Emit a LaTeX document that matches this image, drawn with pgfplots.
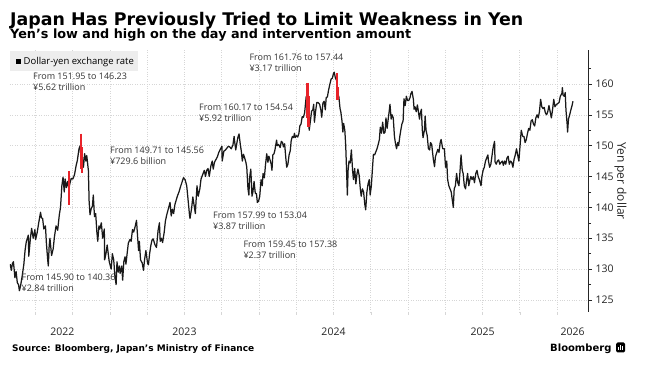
\documentclass[border=0pt]{standalone}
\usepackage{fontspec}
\setmainfont{Open Sans}
\newfontfamily\djv{DejaVu Sans}
\usepackage{pgfplots}
\usepackage{pgfplotstable}
\pgfplotsset{compat=1.18}
\definecolor{gridc}{HTML}{D6D6D6}
\definecolor{intred}{HTML}{E8232A}
\definecolor{anncol}{HTML}{333333}
\pgfplotstableread{
t v
2022.330 130.8
2022.338 129.8
2022.345 130.9
2022.352 131.2
2022.362 128.6
2022.370 129.6
2022.378 127.8
2022.386 127.5
2022.392 126.5
2022.400 127.3
2022.411 128.9
2022.422 130.8
2022.430 133.0
2022.438 134.4
2022.452 135.5
2022.455 132.1
2022.466 135.0
2022.474 136.6
2022.485 135.0
2022.496 136.4
2022.501 134.8
2022.512 136.0
2022.521 137.4
2022.534 139.2
2022.540 138.3
2022.548 138.2
2022.556 136.5
2022.567 137.0
2022.573 134.3
2022.581 131.8
2022.586 130.5
2022.592 133.8
2022.597 135.0
2022.608 132.2
2022.619 133.3
2022.627 135.2
2022.638 137.0
2022.649 136.3
2022.660 138.8
2022.668 140.0
2022.677 143.5
2022.685 144.9
2022.693 142.5
2022.699 144.6
2022.707 143.2
2022.716 144.2
2022.724 143.0
2022.732 144.0
2022.740 144.7
2022.751 144.6
2022.762 145.3
2022.773 146.8
2022.781 147.6
2022.792 149.5
2022.800 150.0
2022.805 148.0
2022.813 148.5
2022.822 146.5
2022.830 148.7
2022.838 147.5
2022.844 148.4
2022.855 146.0
2022.860 141.0
2022.866 138.8
2022.874 139.8
2022.882 140.2
2022.888 142.0
2022.896 138.5
2022.904 139.0
2022.912 136.0
2022.918 134.5
2022.926 137.0
2022.932 136.5
2022.942 137.5
2022.951 135.0
2022.962 136.5
2022.964 131.5
2022.973 132.5
2022.981 133.9
2022.995 131.2
2023.008 130.0
2023.016 132.5
2023.025 131.5
2023.033 128.9
2023.041 127.5
2023.047 131.2
2023.055 129.5
2023.063 130.5
2023.068 129.3
2023.079 130.5
2023.085 128.2
2023.093 131.2
2023.101 132.0
2023.107 130.8
2023.115 132.5
2023.123 134.2
2023.134 134.8
2023.142 134.5
2023.151 136.4
2023.159 136.0
2023.170 137.0
2023.178 137.9
2023.186 135.0
2023.192 133.0
2023.197 134.5
2023.205 131.5
2023.216 131.0
2023.225 129.8
2023.232 131.5
2023.241 133.0
2023.252 131.0
2023.258 130.7
2023.266 132.5
2023.274 133.8
2023.282 134.7
2023.290 134.9
2023.301 134.0
2023.312 133.5
2023.323 136.3
2023.332 137.5
2023.337 134.5
2023.345 135.0
2023.353 134.3
2023.364 136.0
2023.372 137.8
2023.381 138.8
2023.392 139.8
2023.403 140.8
2023.411 138.6
2023.419 139.7
2023.427 139.0
2023.436 140.5
2023.452 141.8
2023.463 142.5
2023.474 143.4
2023.485 144.2
2023.493 144.8
2023.504 144.5
2023.515 143.5
2023.523 141.5
2023.534 138.7
2023.537 138.2
2023.548 139.9
2023.556 141.7
2023.564 140.4
2023.573 139.0
2023.578 141.2
2023.584 143.5
2023.592 141.8
2023.603 143.0
2023.611 144.6
2023.625 145.5
2023.633 146.0
2023.641 145.0
2023.649 146.0
2023.658 146.3
2023.666 145.0
2023.677 146.7
2023.686 147.5
2023.693 146.2
2023.701 147.3
2023.712 147.8
2023.721 148.2
2023.730 148.9
2023.740 149.4
2023.751 149.9
2023.753 147.5
2023.764 149.1
2023.775 149.3
2023.784 149.6
2023.795 149.9
2023.803 149.8
2023.814 149.5
2023.825 150.1
2023.833 151.5
2023.838 150.4
2023.844 149.3
2023.852 150.5
2023.858 151.3
2023.866 151.9
2023.874 150.3
2023.882 149.0
2023.888 147.5
2023.896 148.6
2023.904 148.0
2023.912 147.3
2023.918 146.5
2023.926 143.0
2023.932 142.0
2023.937 144.8
2023.945 146.2
2023.953 141.8
2023.959 142.5
2023.967 144.2
2023.975 142.3
2023.983 142.2
2023.989 140.8
2023.997 141.0
2024.005 141.8
2024.014 144.5
2024.022 143.5
2024.027 145.5
2024.036 144.8
2024.044 147.0
2024.052 148.7
2024.060 147.3
2024.066 148.3
2024.074 147.7
2024.082 147.0
2024.087 146.0
2024.093 148.5
2024.101 148.7
2024.107 149.3
2024.118 150.9
2024.123 150.0
2024.131 150.2
2024.142 149.7
2024.150 150.7
2024.158 150.5
2024.164 149.8
2024.172 150.3
2024.180 148.0
2024.186 146.5
2024.194 147.0
2024.202 148.5
2024.210 149.2
2024.216 150.8
2024.224 151.5
2024.232 151.3
2024.238 152.0
2024.243 151.3
2024.251 151.6
2024.260 151.4
2024.268 152.0
2024.274 153.2
2024.282 153.5
2024.290 154.7
2024.298 154.6
2024.306 155.3
2024.317 158.0
2024.326 156.5
2024.332 154.5
2024.337 152.5
2024.345 154.0
2024.353 155.6
2024.361 155.8
2024.367 156.7
2024.372 153.8
2024.380 155.6
2024.388 157.0
2024.396 157.0
2024.407 156.7
2024.415 155.8
2024.421 154.6
2024.429 156.9
2024.437 157.2
2024.445 155.8
2024.451 157.8
2024.459 157.9
2024.467 159.0
2024.475 159.9
2024.484 160.8
2024.492 160.9
2024.500 161.7
2024.505 161.9
2024.514 160.8
2024.519 160.9
2024.525 159.5
2024.528 158.5
2024.536 157.9
2024.544 156.0
2024.549 155.5
2024.557 154.0
2024.563 152.2
2024.568 153.6
2024.576 152.5
2024.582 150.0
2024.587 146.5
2024.593 142.0
2024.598 146.0
2024.604 147.5
2024.612 147.2
2024.620 149.3
2024.628 146.0
2024.634 144.5
2024.642 146.3
2024.650 143.8
2024.658 145.5
2024.664 146.2
2024.672 145.2
2024.680 143.0
2024.686 141.8
2024.694 143.0
2024.702 142.5
2024.710 140.5
2024.716 139.6
2024.724 142.5
2024.732 143.8
2024.740 144.5
2024.746 142.0
2024.754 143.5
2024.762 146.5
2024.768 148.6
2024.776 148.5
2024.784 149.0
2024.792 149.5
2024.800 150.2
2024.808 151.0
2024.814 153.0
2024.822 152.0
2024.830 153.8
2024.838 152.0
2024.846 152.2
2024.852 154.5
2024.860 152.8
2024.868 154.5
2024.874 155.6
2024.879 156.7
2024.887 154.3
2024.893 155.0
2024.901 154.5
2024.909 151.5
2024.915 150.5
2024.923 149.5
2024.931 150.5
2024.937 150.0
2024.945 151.5
2024.953 152.7
2024.959 153.5
2024.967 154.0
2024.973 157.6
2024.981 156.5
2024.989 158.0
2024.997 157.3
2025.005 157.3
2025.014 157.8
2025.019 158.4
2025.027 158.8
2025.036 157.5
2025.041 155.9
2025.047 156.3
2025.055 155.5
2025.063 156.6
2025.068 155.8
2025.077 154.3
2025.082 155.2
2025.090 155.9
2025.096 152.5
2025.101 151.3
2025.110 152.5
2025.115 154.8
2025.121 152.5
2025.129 151.6
2025.137 149.5
2025.145 149.3
2025.151 150.5
2025.159 150.2
2025.170 147.8
2025.178 146.6
2025.184 148.2
2025.192 148.8
2025.200 149.4
2025.208 148.9
2025.216 150.5
2025.222 151.0
2025.233 149.5
2025.244 149.5
2025.252 146.5
2025.260 147.5
2025.266 144.5
2025.274 143.5
2025.282 143.0
2025.290 142.5
2025.304 140.0
2025.310 143.0
2025.318 143.5
2025.326 145.5
2025.334 144.0
2025.342 143.5
2025.348 145.5
2025.356 148.5
2025.364 146.0
2025.370 145.5
2025.378 143.5
2025.386 143.0
2025.394 144.5
2025.400 145.5
2025.408 143.5
2025.416 144.5
2025.422 145.0
2025.430 144.5
2025.438 145.0
2025.446 144.0
2025.455 145.5
2025.463 146.0
2025.471 145.0
2025.479 144.5
2025.490 143.5
2025.496 145.0
2025.504 146.0
2025.512 146.5
2025.520 147.5
2025.536 148.5
2025.540 147.5
2025.548 146.5
2025.556 147.0
2025.570 149.5
2025.581 150.7
2025.584 147.4
2025.592 147.0
2025.600 147.5
2025.608 147.7
2025.616 147.0
2025.625 147.3
2025.633 147.5
2025.640 146.8
2025.648 147.5
2025.656 147.0
2025.664 148.0
2025.672 148.3
2025.680 147.0
2025.688 147.5
2025.696 147.3
2025.704 146.5
2025.712 147.8
2025.720 148.5
2025.728 149.5
2025.736 148.5
2025.744 147.5
2025.752 150.0
2025.760 152.5
2025.770 151.5
2025.778 151.5
2025.786 150.5
2025.794 151.0
2025.802 152.0
2025.810 152.8
2025.818 152.5
2025.826 154.0
2025.834 154.2
2025.842 153.5
2025.850 153.2
2025.858 154.5
2025.866 155.0
2025.874 154.5
2025.882 155.5
2025.890 157.5
2025.898 156.3
2025.906 156.0
2025.914 156.2
2025.922 155.3
2025.930 155.0
2025.938 155.5
2025.946 156.5
2025.954 155.5
2025.962 154.5
2025.970 155.8
2025.978 157.5
2025.986 156.3
2025.994 156.6
2026.003 156.8
2026.014 157.0
2026.022 158.0
2026.033 158.5
2026.036 159.4
2026.041 158.2
2026.049 158.0
2026.055 158.6
2026.060 155.8
2026.068 153.5
2026.071 152.2
2026.077 154.3
2026.085 155.0
2026.093 155.8
2026.101 156.5
2026.107 157.2
}\usd
\newcommand{\ann}{\fontsize{9}{11}\selectfont\color{anncol}}
\begin{document}
\begin{tikzpicture}
\path[use as bounding box] (0,0) rectangle (650pt,369pt);
\begin{axis}[
  at={(10pt,57pt)}, anchor=south west,
  scale only axis, width=578pt, height=262pt,
  xmin=2022.329, xmax=2026.208, ymin=123.05, ymax=165.5,
  axis x line*=bottom, axis y line*=right,
  x axis line style={draw=none},
  y axis line style={black!85, line width=0.6pt, -},
  xtick={2022.68,2023.5,2024.5,2025.5,2026.104},
  xticklabels={2022,2023,2024,2025,2026},
  major x tick style={draw=none},
  minor xtick={2022.5,2022.75,2023,2023.25,2023.5,2023.75,2024,2024.25,2024.5,2024.75,2025,2025.25,2025.5,2025.75,2026},
  minor x tick style={gridc, line width=0.5pt},
  xminorgrids=true, ymajorgrids=true,
  minor grid style={gridc, dotted, line width=0.6pt},
  major grid style={gridc, dotted, line width=0.6pt},
  ytick={125,130,135,140,145,150,155,160},
  minor ytick={127.5,132.5,137.5,142.5,147.5,152.5,157.5,162.5},
  major y tick style={black!85, line width=0.5pt},
  minor y tick style={black!85, line width=0.5pt},
  tick align=outside,
  major tick length=4pt, minor tick length=3pt,
  /pgf/number format/assume math mode=true,
  yticklabel style={font=\fontsize{10.5}{12}\selectfont, color=black!85},
  xticklabel style={font=\fontsize{10.5}{12}\selectfont, color=black!85, yshift=-8pt},
  ylabel={Yen per dollar},
  ylabel shift=-6pt,
  ylabel style={font=\fontsize{12}{14}\selectfont, rotate=180, color=black!85},
]
\addplot[black!90, line width=1.25pt, line join=round] table[x=t,y=v] {\usd};
\addplot[intred, line width=2.4pt] coordinates {(2022.724,145.90) (2022.724,140.36)};
\addplot[intred, line width=2.4pt] coordinates {(2022.805,151.95) (2022.805,146.23)};
\addplot[intred, line width=2.4pt] coordinates {(2022.813,149.71) (2022.813,145.56)};
\addplot[intred, line width=2.4pt] coordinates {(2024.326,160.17) (2024.326,154.54)};
\addplot[intred, line width=2.4pt] coordinates {(2024.332,157.99) (2024.332,153.04)};
\addplot[intred, line width=2.4pt] coordinates {(2024.525,161.76) (2024.525,157.44)};
\addplot[intred, line width=2.4pt] coordinates {(2024.528,159.45) (2024.528,157.38)};
\end{axis}
% legend
\fill[black!7] (10pt,298pt) rectangle (138pt,318pt);
\fill[black] (16pt,305pt) rectangle (21pt,310pt);
\node[anchor=base west, inner sep=0, font=\fontsize{9.5}{11}\selectfont] at (23.5pt,304.3pt) {Dollar-yen exchange rate};
% annotations
\node[anchor=base west, inner sep=0, font=\ann] at (33pt,289.7pt) {From 151.95 to 146.23};
\node[anchor=base west, inner sep=0, font=\ann] at (33pt,278.7pt) {¥5.62 trillion};
\node[anchor=base west, inner sep=0, font=\ann] at (110pt,215pt) {From 149.71 to 145.56};
\node[anchor=base west, inner sep=0, font=\ann] at (110pt,204pt) {¥729.6 billion};
\node[anchor=base west, inner sep=0, font=\ann] at (21.5pt,88.4pt) {From 145.90 to 140.36};
\node[anchor=base west, inner sep=0, font=\ann] at (21.5pt,77.4pt) {¥2.84 trillion};
\node[anchor=base west, inner sep=0, font=\ann] at (199pt,258.4pt) {From 160.17 to 154.54};
\node[anchor=base west, inner sep=0, font=\ann] at (199pt,247.4pt) {¥5.92 trillion};
\node[anchor=base west, inner sep=0, font=\ann] at (249.3pt,308.4pt) {From 161.76 to 157.44};
\node[anchor=base west, inner sep=0, font=\ann] at (249.3pt,297.4pt) {¥3.17 trillion};
\node[anchor=base west, inner sep=0, font=\ann] at (213pt,150.7pt) {From 157.99 to 153.04};
\node[anchor=base west, inner sep=0, font=\ann] at (213pt,139.7pt) {¥3.87 trillion};
\node[anchor=base west, inner sep=0, font=\ann] at (243.3pt,121.7pt) {From 159.45 to 157.38};
\node[anchor=base west, inner sep=0, font=\ann] at (243.3pt,110.7pt) {¥2.37 trillion};
% titles
\node[anchor=base west, inner sep=0, font=\djv\bfseries\fontsize{17.4}{20}\selectfont] at (10pt,343pt) {Japan Has Previously Tried to Limit Weakness in Yen};
\node[anchor=base west, inner sep=0, font=\djv\bfseries\fontsize{12.8}{15}\selectfont] at (10pt,330.5pt) {Yen’s low and high on the day and intervention amount};
% footer
\node[anchor=base west, inner sep=0, font=\djv\bfseries\fontsize{9}{11}\selectfont] at (12pt,17pt) {Source: Bloomberg, Japan’s Ministry of Finance};
\node[anchor=base west, inner sep=0, font=\djv\bfseries\fontsize{10}{12}\selectfont] at (550pt,17.5pt) {Bloomberg};
\fill[black, rounded corners=1.5pt] (616pt,16.5pt) rectangle (625pt,26.5pt);
\fill[white] (618pt,19pt) rectangle (619pt,22pt);
\fill[white] (620pt,19pt) rectangle (621pt,24pt);
\fill[white] (622pt,19pt) rectangle (623pt,23pt);
\end{tikzpicture}
\end{document}
